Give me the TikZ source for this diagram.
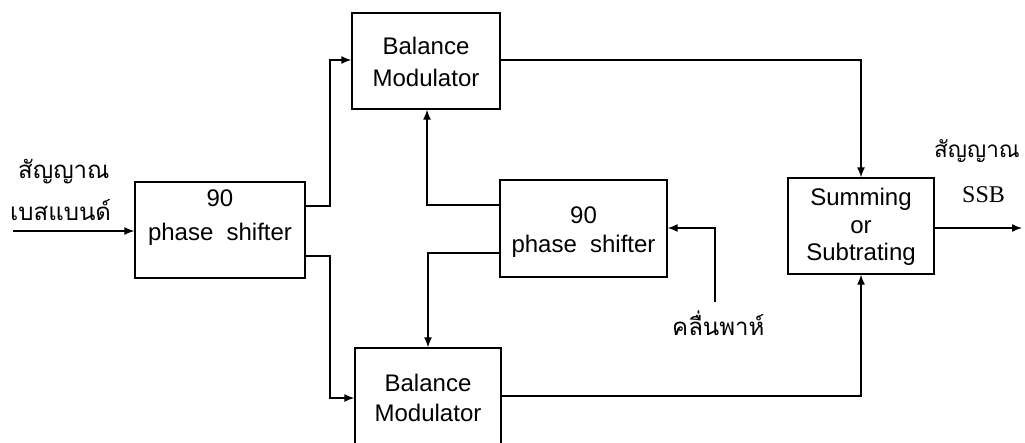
\documentclass[tikz,border=0pt]{standalone}
\usepackage{fontspec}
\setmainfont{Liberation Sans}
\newfontfamily\thaifont[Script=Thai]{Loma}
\newfontfamily\serifont{Liberation Serif}
\usetikzlibrary{arrows.meta}
\begin{document}
\begin{tikzpicture}[x=1pt,y=-1pt,
  box/.style={draw,line width=1.4pt,inner sep=0pt},
  lbl/.style={inner sep=0pt,align=center},
  th/.style={inner sep=0pt,anchor=base west,font=\thaifont\fontsize{24}{28}\selectfont},
  conn/.style={line width=1.4pt},
  arr/.style={conn,-{Latex[length=10pt,width=8pt]}}]
\useasboundingbox (0,0) rectangle (1025,442);
% boxes
\node[box,minimum width=170pt,minimum height=96pt] (ps1) at (220,230) {};
\node[box,minimum width=148pt,minimum height=96pt] (bm1) at (426,61) {};
\node[box,minimum width=167pt,minimum height=97pt] (ps2) at (583.5,228.5) {};
\node[box,minimum width=146pt,minimum height=96pt] (bm2) at (428,396) {};
\node[box,minimum width=146pt,minimum height=96pt] (sum) at (861,226) {};
% texts
\node[lbl,font=\fontsize{24}{34}\selectfont] (ps1t) at (220,218) {90\\phase\hspace{0.55em}shifter};
\node[lbl,font=\fontsize{24}{32}\selectfont] (bm1t) at (426,62) {Balance\\Modulator};
\node[lbl,font=\fontsize{24}{29}\selectfont] (ps2t) at (583.5,232) {90\\phase\hspace{0.55em}shifter};
\node[lbl,font=\fontsize{24}{30}\selectfont] (bm2t) at (428,398) {Balance\\Modulator};
\node[lbl,font=\fontsize{24}{27.5}\selectfont] (sumt) at (861,227) {Summing\\or\\Subtrating};
% thai labels
\node[th] (in1) at (18,178) {สัญญาณ};
\node[th] (in2) at (10,220) {เบสแบนด์};
\node[th,font=\thaifont\fontsize{22.5}{28}\selectfont] (out1) at (934,157) {สัญญาณ};
\node[inner sep=0pt,anchor=base west,font=\serifont\fontsize{24}{28}\selectfont] (out2) at (962,202) {SSB};
\node[th] (car) at (672,335) {คลื่นพาห์};
% coordinates
\coordinate (inS) at (13,231);
\coordinate (outE) at (1022,228);
\coordinate (carS) at (715,302);
% connectors
\draw[arr] (inS) -- (ps1.west |- inS);
\draw[arr] (ps1.east |- 0,206) -| (330,60) -- (bm1.west |- 0,60);
\draw[arr] (ps1.east |- 0,256) -| (330,398) -- (bm2.west |- 0,398);
\draw[arr] (bm1.east |- 0,60) -| (sum.north);
\draw[arr] (bm2.east |- 0,396) -| (sum.south);
\draw[arr] (ps2.west |- 0,205) -| (bm1.south -| 427,0);
\draw[arr] (ps2.west |- 0,253) -| (bm2.north -| 428,0);
\draw[arr] (carS) |- (ps2.east |- 0,228);
\draw[arr] (sum.east |- outE) -- (outE);
\end{tikzpicture}
\end{document}
